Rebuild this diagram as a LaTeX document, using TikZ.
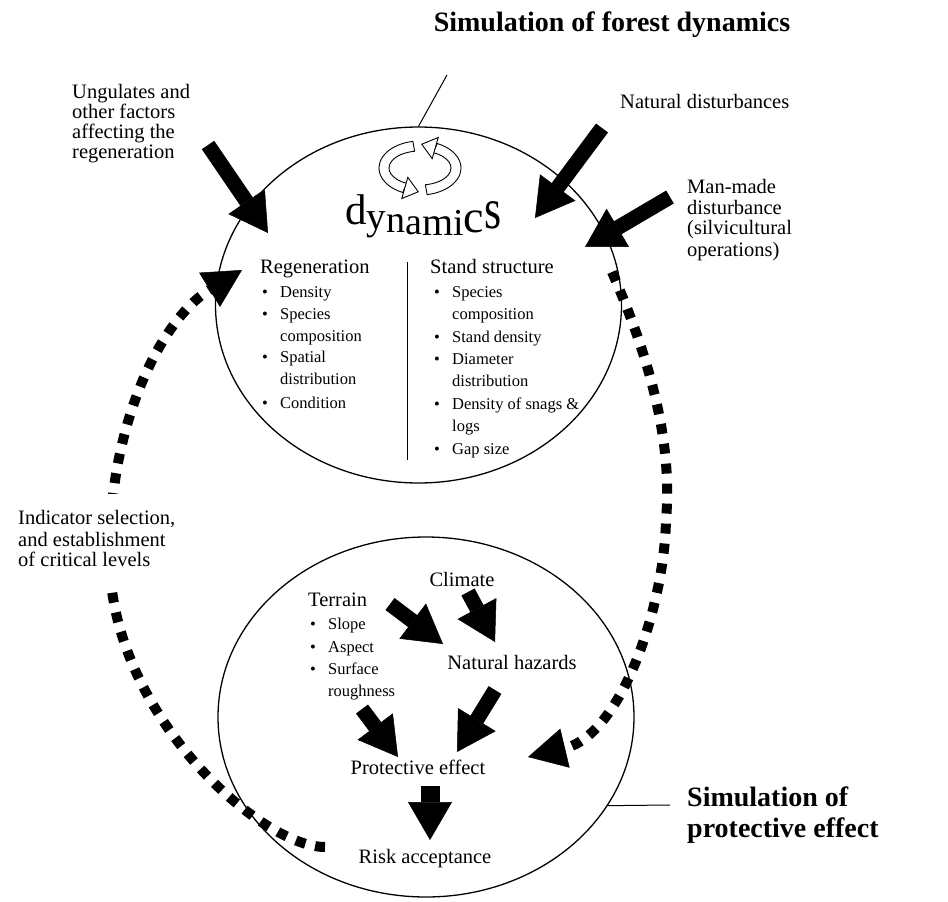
\documentclass[tikz,border=0pt]{standalone}
\usepackage{fontspec}
\setmainfont{Liberation Serif}
\usetikzlibrary{arrows.meta,shapes.geometric,calc}
\newcommand{\dl}[3]{\raisebox{#2pt}{\fontsize{#1}{#1}\selectfont #3}}
\begin{document}
\begin{tikzpicture}[x=1pt,y=-1pt,
  lab/.style={font=\fontsize{20.5}{22}\selectfont, inner sep=0pt},
  sml/.style={font=\fontsize{16.5}{20}\selectfont, inner sep=0pt},
  ttl/.style={font=\bfseries\fontsize{28}{31}\selectfont, inner sep=0pt},
  blk/.style={line width=15pt, -{Triangle[width=44pt,length=38pt,line width=0.5pt]}},
  dots/.style={line width=10pt, dash pattern=on 10pt off 10pt, -{Triangle[width=40pt,length=38pt,line width=0.5pt]}},
  ring/.style={draw, ellipse, line width=1.3pt, inner sep=0pt},
  thinline/.style={line width=1pt},
  ribbon/.style={line width=0.9pt, fill=white}]
\fill[white] (0,0) rectangle (948,902);
\useasboundingbox (0,0) rectangle (948,902);

% circles
\node[ring, minimum width=406pt, minimum height=356pt] (topc) at (418.5,305) {};
\node[ring, minimum width=416pt, minimum height=360pt] (botc) at (426,717) {};

% titles and pointers
\node[ttl, anchor=base] (title) at (612,31) {Simulation of forest dynamics};
\coordinate (tp) at (447,75);
\draw[thinline] (tp) -- (topc.north);
\node[ttl, anchor=base west] (sp1) at (687,806) {Simulation of};
\node[ttl, anchor=base west] (sp2) at (687,837) {protective effect};
\coordinate (bp) at (670,805);
\draw[thinline] (botc.-26) -- (bp);

% dotted feedback arrows
\coordinate (ls) at (325,847);
\coordinate (lm) at (110,570);
\coordinate (lt) at (242,270);
\draw[dots] (ls) .. controls (262,847) and (118,720) .. (lm) .. controls (105,430) and (160,320) .. (lt);
\coordinate (rs) at (612,272);
\coordinate (rm) at (666,520);
\coordinate (rt) at (528,757);
\draw[dots] (rs) .. controls (655,370) and (672,450) .. (rm) .. controls (664,610) and (620,735) .. (rt);

% left label over dotted line
\fill[white] (12,494) rectangle (192,586);
\node[lab, anchor=base west] (ind1) at (18,524) {Indicator selection,};
\node[lab, anchor=base west] (ind2) at (18,546) {and establishment};
\node[lab, anchor=base west] (ind3) at (18,566) {of critical levels};

% outer labels
\node[lab, anchor=base west] (ung1) at (72,98) {Ungulates and};
\node[lab, anchor=base west] (ung2) at (72,118) {other factors};
\node[lab, anchor=base west] (ung3) at (72,138) {affecting the};
\node[lab, anchor=base west] (ung4) at (72,158) {regeneration};
\node[lab, anchor=base west] (nat) at (620,108) {Natural disturbances};
\node[lab, anchor=base west] (man1) at (687,193) {Man-made};
\node[lab, anchor=base west] (man2) at (687,214) {disturbance};
\node[lab, anchor=base west] (man3) at (687,234) {(silvicultural};
\node[lab, anchor=base west] (man4) at (687,256) {operations)};

% big arrows into top circle
\coordinate (u1) at (208,145); \coordinate (u2) at (268,233);
\draw[blk] (u1) -- (u2);
\coordinate (n1) at (602,128); \coordinate (n2) at (535,218);
\draw[blk] (n1) -- (n2);
\coordinate (m1) at (670,197); \coordinate (m2) at (585,247);
\draw[blk] (m1) -- (m2);

% cycle icon
\begin{scope}[shift={(420,168)}, yscale=-1]
  \draw[ribbon] (100:41 and 27) arc[start angle=100, end angle=245, x radius=41, y radius=27]
     -- (245:31 and 17) arc[start angle=245, end angle=100, x radius=31, y radius=17] -- cycle;
  \draw[ribbon] (-12.2,-9.36) -- (-1.74,-23.78) -- (-18.22,-30.52) -- cycle;
  \draw[ribbon] (-80:41 and 27) arc[start angle=-80, end angle=65, x radius=41, y radius=27]
     -- (65:31 and 17) arc[start angle=65, end angle=-80, x radius=31, y radius=17] -- cycle;
  \draw[ribbon] (12.2,9.36) -- (1.74,23.78) -- (18.22,30.52) -- cycle;
\end{scope}

% "dynamics" word (arched)
\node[inner sep=0pt, anchor=base west] (dyn) at (345,224)
  {\dl{43}{0}{d}\dl{39}{-5}{y}\dl{38}{-8}{n}\dl{38}{-10}{a}\dl{40}{-11}{m}\dl{38}{-11}{i}\dl{46}{-8}{c}\dl{44}{-4}{\scalebox{1}[1.3]{s}}};

% top circle contents
\coordinate (dv1) at (407,262); \coordinate (dv2) at (407,460);
\draw[thinline] (dv1) -- (dv2);
\node[lab, anchor=base west] (reg) at (260,273) {Regeneration};
\foreach \t/\yy/\b [count=\i] in {Density/297/1, Species/319/1, composition/341/0, Spatial/362/1, distribution/384/0, Condition/408/1} {
  \node[sml, anchor=base west] (r\i) at (280,\yy) {\t};
  \ifnum\b=1 \node[sml, anchor=base west] (rb\i) at (262,\yy) {\textbullet}; \fi
}
\node[lab, anchor=base west] (stand) at (430,273) {Stand structure};
\foreach \t/\yy/\b [count=\i] in {Species/297/1, composition/319/0, Stand density/342/1, Diameter/364/1, distribution/386/0, Density of snags \&/409/1, logs/431/0, Gap size/454/1} {
  \node[sml, anchor=base west] (s\i) at (452,\yy) {\t};
  \ifnum\b=1 \node[sml, anchor=base west] (sb\i) at (434,\yy) {\textbullet}; \fi
}

% bottom circle contents
\node[lab, anchor=base] (clim) at (462,586) {Climate};
\node[lab, anchor=base west] (terr) at (308,606) {Terrain};
\foreach \t/\yy/\b [count=\i] in {Slope/629/1, Aspect/652/1, Surface/674/1, roughness/696/0} {
  \node[sml, anchor=base west] (t\i) at (328,\yy) {\t};
  \ifnum\b=1 \node[sml, anchor=base west] (tb\i) at (310,\yy) {\textbullet}; \fi
}
\node[lab, anchor=base] (haz) at (512,669) {Natural hazards};
\node[lab, anchor=base] (prot) at (418,774) {Protective effect};
\node[lab, anchor=base] (risk) at (425,863) {Risk acceptance};

\coordinate (b1s) at (390,604); \coordinate (b1e) at (443,644);
\draw[blk] (b1s) -- (b1e);
\coordinate (b2s) at (468,592); \coordinate (b2e) at (495,642);
\draw[blk] (b2s) -- (b2e);
\coordinate (b3s) at (495,690); \coordinate (b3e) at (457,752);
\draw[blk] (b3s) -- (b3e);
\coordinate (b4s) at (362,709); \coordinate (b4e) at (398,757);
\draw[blk] (b4s) -- (b4e);
\coordinate (b5s) at (430,786); \coordinate (b5e) at (430,840);
\draw[blk, line width=19pt] (b5s) -- (b5e);
\end{tikzpicture}
\end{document}
